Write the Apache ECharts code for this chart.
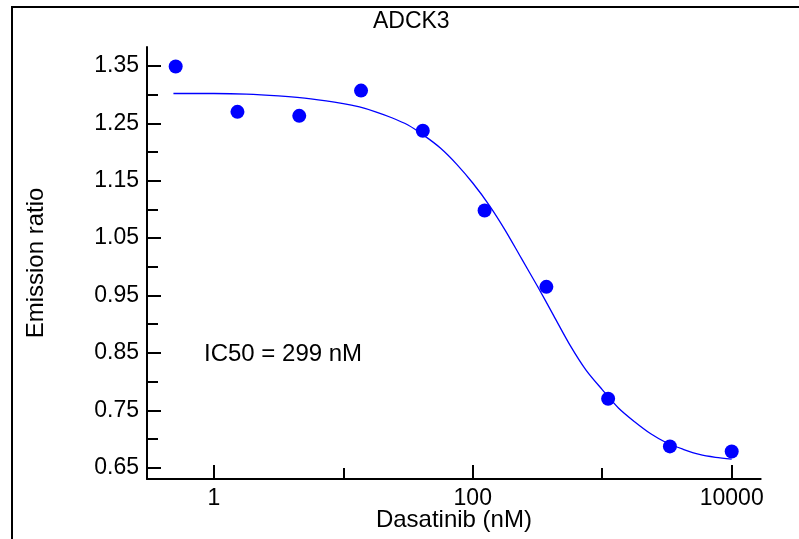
<!DOCTYPE html>
<html><head><meta charset="utf-8">
<script src="https://cdn.jsdelivr.net/npm/echarts@6/dist/echarts.min.js"></script>
<style>html,body{margin:0;padding:0;background:#fff}#c{width:799px;height:539px}</style>
</head><body><div id="c"></div>
<script>
const titleText = 'ADCK3';
const xName = 'Dasatinib (nM)';
const yName = 'Emission ratio';
const noteText = 'IC50 = 299 nM';
const conc = [0.508, 1.524, 4.572, 13.72, 41.15, 123.5, 370.4, 1111, 3333, 10000];
const ratio = [1.349, 1.270, 1.263, 1.307, 1.237, 1.098, 0.965, 0.770, 0.687, 0.678];
const curveX = [0.488, 1, 1.778, 3.162, 5.623, 10, 13.34, 17.78, 23.71, 31.62, 42.17, 56.23, 74.99, 100, 133.4, 177.8, 237.1, 316.2, 421.7, 562.3, 749.9, 1000, 1334, 1778, 2371, 3162, 4217, 5623, 7499, 10000];
const curveY = [1.302, 1.302, 1.301, 1.2977, 1.2927, 1.2845, 1.2785, 1.270, 1.2597, 1.247, 1.2286, 1.207, 1.179, 1.146, 1.108, 1.064, 1.015, 0.966, 0.915, 0.864, 0.820, 0.786, 0.754, 0.730, 0.709, 0.693, 0.682, 0.673, 0.668, 0.665];
const xMajorTicks = [1, 100, 10000];
const xMinorTicks = [10, 1000];
const yMajorTicks = [0.65, 0.75, 0.85, 0.95, 1.05, 1.15, 1.25, 1.35];
const yMinorTicks = [0.70, 0.80, 0.90, 1.00, 1.10, 1.20, 1.30];

const FONT = "'Liberation Sans', Arial, sans-serif";
const FS = 23;
const chart = echarts.init(document.getElementById('c'), null, {renderer: 'canvas'});
const xBase = {type: 'log', min: 0.305, max: 16750, splitLine: {show: false}};
const yBase = {type: 'value', min: 0.6302, max: 1.383, splitLine: {show: false}};
chart.setOption({
  animation: false,
  backgroundColor: '#fff',
  grid: {left: 147, top: 47, right: 38.3, bottom: 60, containLabel: false},
  xAxis: [
    Object.assign({}, xBase, {
      axisLine: {show: true, lineStyle: {color: '#000', width: 2}},
      axisTick: {show: true, inside: true, length: 14, lineStyle: {color: '#000', width: 2}, customValues: xMajorTicks},
      axisLabel: {show: true, customValues: xMajorTicks, formatter: v => String(Math.round(v)), color: '#000', fontFamily: FONT, fontSize: FS, margin: 8}
    }),
    Object.assign({}, xBase, {
      position: 'bottom',
      axisLine: {show: false},
      axisTick: {show: true, inside: true, length: 11, lineStyle: {color: '#000', width: 2}, customValues: xMinorTicks},
      axisLabel: {show: false}
    })
  ],
  yAxis: [
    Object.assign({}, yBase, {
      axisLine: {show: true, lineStyle: {color: '#000', width: 2}},
      axisTick: {show: true, inside: true, length: 14, lineStyle: {color: '#000', width: 2}, customValues: yMajorTicks},
      axisLabel: {show: true, customValues: yMajorTicks, formatter: v => v.toFixed(2), color: '#000', fontFamily: FONT, fontSize: FS, margin: 8}
    }),
    Object.assign({}, yBase, {
      position: 'left',
      axisLine: {show: false},
      axisTick: {show: true, inside: true, length: 11, lineStyle: {color: '#000', width: 2}, customValues: yMinorTicks},
      axisLabel: {show: false}
    })
  ],
  series: [
    {
      type: 'line', xAxisIndex: 0, yAxisIndex: 0,
      data: curveX.map((x, i) => [x, curveY[i]]),
      smooth: 0.3, showSymbol: false, symbol: 'none',
      lineStyle: {color: '#0000ff', width: 1.3}, z: 3
    },
    {
      type: 'scatter', xAxisIndex: 0, yAxisIndex: 0,
      data: conc.map((x, i) => [x, ratio[i]]),
      symbol: 'circle', symbolSize: 14,
      itemStyle: {color: '#0000ff', opacity: 1}, z: 4
    }
  ],
  graphic: [
    {type: 'polyline', shape: {points: [[12, 539], [12, 7], [799, 7]]}, style: {stroke: '#000', lineWidth: 2, fill: null}, silent: true},
    {type: 'text', x: 411.3, y: 22, style: {text: titleText, font: FS + 'px ' + FONT, fill: '#000', align: 'center', verticalAlign: 'middle'}},
    {type: 'text', x: 204, y: 354, style: {text: noteText, font: '24px ' + FONT, fill: '#000', align: 'left', verticalAlign: 'middle'}},
    {type: 'text', x: 453.9, y: 520, style: {text: xName, font: '24px ' + FONT, fill: '#000', align: 'center', verticalAlign: 'middle'}},
    {type: 'text', x: 36.3, y: 263, rotation: Math.PI / 2, style: {text: yName, font: '24px ' + FONT, fill: '#000', align: 'center', verticalAlign: 'middle'}}
  ]
});
</script></body></html>
